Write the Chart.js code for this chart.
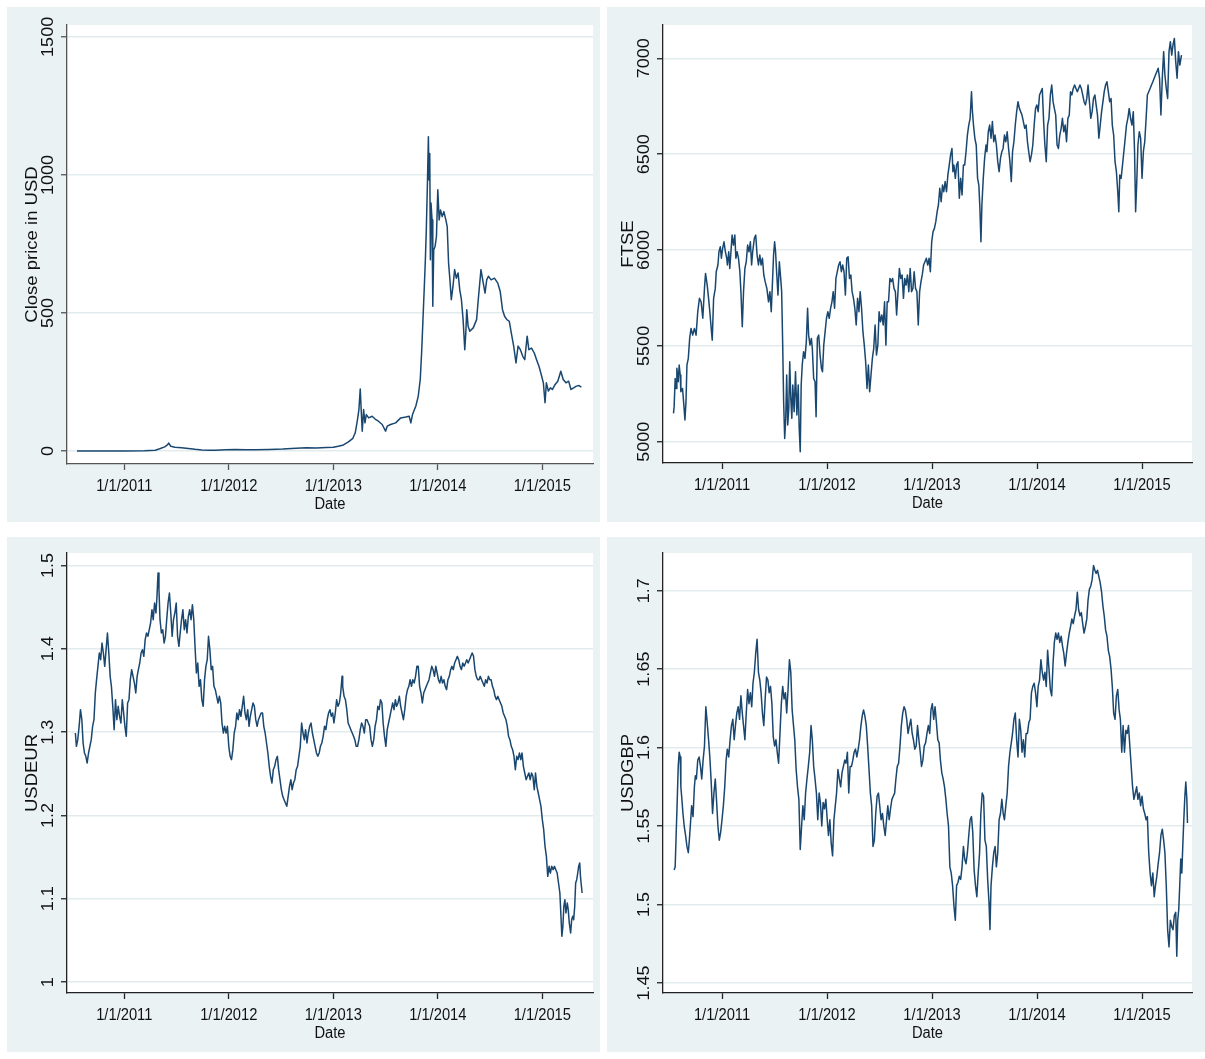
<!DOCTYPE html>
<html>
<head>
<meta charset="utf-8">
<title>Bitcoin, FTSE, USDEUR, USDGBP</title>
<script src="https://cdn.jsdelivr.net/npm/chart.js@4.4.1/dist/chart.umd.min.js"></script>
<style>
  html, body { margin: 0; padding: 0; background: #fff; }
  body { width: 1205px; height: 1059px; position: relative; overflow: hidden; }
  .panel { position: absolute; background: #eaf2f3; }
  .panel canvas { display: block; }
</style>
</head>
<body>
<div class="panel" style="left:7px;top:7px;width:593px;height:515px"><canvas id="btcChart" width="593" height="515"></canvas></div>
<div class="panel" style="left:607px;top:7px;width:598px;height:515px"><canvas id="ftseChart" width="598" height="515"></canvas></div>
<div class="panel" style="left:7px;top:537px;width:593px;height:515px"><canvas id="eurChart" width="593" height="515"></canvas></div>
<div class="panel" style="left:607px;top:537px;width:598px;height:515px"><canvas id="gbpChart" width="598" height="515"></canvas></div>

<script>
// x values are dates as decimal years
const yearTicks = [2011, 2012, 2013, 2014, 2015];
const btcTicks = [0, 500, 1000, 1500];
const ftseTicks = [5000, 5500, 6000, 6500, 7000];
const eurTicks = [1, 1.1, 1.2, 1.3, 1.4, 1.5];
const gbpTicks = [1.45, 1.5, 1.55, 1.6, 1.65, 1.7];

// Bitcoin close price in USD
const btcYears = [
  2010.548, 2010.774, 2011.000, 2011.194, 2011.297, 2011.339, 2011.387, 2011.413, 2011.426, 2011.445,
  2011.484, 2011.548, 2011.613, 2011.677, 2011.742, 2011.806, 2011.871, 2011.968, 2012.065, 2012.161,
  2012.258, 2012.387, 2012.516, 2012.645, 2012.742, 2012.839, 2012.935, 2013.000, 2013.048, 2013.097,
  2013.145, 2013.187, 2013.210, 2013.232, 2013.245, 2013.258, 2013.268, 2013.277, 2013.290, 2013.303,
  2013.316, 2013.339, 2013.371, 2013.403, 2013.432, 2013.468, 2013.500, 2013.516, 2013.548, 2013.597,
  2013.645, 2013.694, 2013.726, 2013.742, 2013.758, 2013.790, 2013.813, 2013.832, 2013.845, 2013.858,
  2013.871, 2013.881, 2013.890, 2013.900, 2013.910, 2013.916, 2013.923, 2013.929, 2013.935, 2013.945,
  2013.952, 2013.961, 2013.974, 2013.987, 2014.000, 2014.013, 2014.026, 2014.042, 2014.058, 2014.077,
  2014.090, 2014.103, 2014.116, 2014.129, 2014.145, 2014.161, 2014.177, 2014.194, 2014.210, 2014.226,
  2014.242, 2014.258, 2014.268, 2014.277, 2014.290, 2014.306, 2014.339, 2014.371, 2014.387, 2014.413,
  2014.435, 2014.452, 2014.468, 2014.484, 2014.510, 2014.542, 2014.574, 2014.597, 2014.619, 2014.639,
  2014.661, 2014.684, 2014.703, 2014.726, 2014.748, 2014.768, 2014.790, 2014.813, 2014.832, 2014.855,
  2014.871, 2014.897, 2014.923, 2014.945, 2014.968, 2014.994, 2015.010, 2015.026, 2015.039, 2015.058,
  2015.077, 2015.097, 2015.123, 2015.148, 2015.177, 2015.200, 2015.226, 2015.252, 2015.274, 2015.300,
  2015.326, 2015.352, 2015.374
];
const btcClose = [
  0.06, 0.1, 0.3, 0.9, 3, 8, 15, 22, 29, 17,
  14, 12, 9, 6, 4, 3, 3, 4.5, 5.5, 5,
  5, 5.5, 7, 10, 12, 11, 13, 13.5, 17, 22,
  33, 46, 66, 115, 150, 225, 140, 72, 150, 102,
  132, 120, 126, 115, 108, 96, 72, 90, 96, 102,
  120, 123, 126, 102, 132, 163, 199, 259, 355, 476,
  596, 693, 801, 958, 1138, 982, 1078, 693, 898, 837,
  524, 729, 741, 777, 946, 837, 873, 849, 867, 837,
  813, 681, 620, 548, 596, 657, 626, 645, 584, 548,
  476, 367, 428, 512, 452, 434, 446, 476, 548, 657,
  608, 572, 620, 633, 620, 626, 608, 578, 512, 488,
  476, 470, 428, 380, 319, 380, 367, 343, 331, 416,
  367, 373, 355, 331, 307, 271, 247, 175, 247, 217,
  229, 223, 241, 253, 289, 259, 247, 253, 223, 229,
  235, 237, 231
];

// FTSE index
const ftseYears = [
  2010.538, 2010.544, 2010.554, 2010.563, 2010.570, 2010.583, 2010.592, 2010.602, 2010.608, 2010.624,
  2010.634, 2010.647, 2010.657, 2010.666, 2010.679, 2010.692, 2010.705, 2010.721, 2010.737, 2010.753,
  2010.769, 2010.785, 2010.801, 2010.817, 2010.833, 2010.843, 2010.859, 2010.872, 2010.884, 2010.897,
  2010.907, 2010.920, 2010.936, 2010.945, 2010.961, 2010.971, 2010.984, 2010.994, 2011.006, 2011.019,
  2011.032, 2011.045, 2011.051, 2011.064, 2011.074, 2011.083, 2011.096, 2011.109, 2011.122, 2011.132,
  2011.144, 2011.157, 2011.170, 2011.180, 2011.193, 2011.205, 2011.218, 2011.231, 2011.244, 2011.257,
  2011.270, 2011.282, 2011.292, 2011.308, 2011.321, 2011.334, 2011.347, 2011.360, 2011.372, 2011.385,
  2011.398, 2011.411, 2011.427, 2011.443, 2011.456, 2011.469, 2011.482, 2011.491, 2011.501, 2011.510,
  2011.520, 2011.533, 2011.546, 2011.559, 2011.568, 2011.578, 2011.587, 2011.597, 2011.607, 2011.616,
  2011.626, 2011.636, 2011.645, 2011.655, 2011.665, 2011.674, 2011.687, 2011.700, 2011.713, 2011.726,
  2011.735, 2011.745, 2011.754, 2011.764, 2011.777, 2011.790, 2011.803, 2011.815, 2011.825, 2011.838,
  2011.851, 2011.860, 2011.873, 2011.886, 2011.896, 2011.908, 2011.921, 2011.934, 2011.947, 2011.957,
  2011.969, 2011.982, 2011.995, 2012.008, 2012.021, 2012.034, 2012.047, 2012.059, 2012.072, 2012.085,
  2012.098, 2012.111, 2012.124, 2012.137, 2012.149, 2012.162, 2012.175, 2012.188, 2012.201, 2012.214,
  2012.227, 2012.239, 2012.252, 2012.265, 2012.278, 2012.291, 2012.304, 2012.316, 2012.329, 2012.342,
  2012.355, 2012.368, 2012.381, 2012.394, 2012.406, 2012.419, 2012.432, 2012.445, 2012.458, 2012.471,
  2012.484, 2012.496, 2012.509, 2012.522, 2012.535, 2012.548, 2012.561, 2012.573, 2012.586, 2012.599,
  2012.612, 2012.625, 2012.638, 2012.651, 2012.663, 2012.676, 2012.689, 2012.702, 2012.715, 2012.728,
  2012.740, 2012.753, 2012.766, 2012.779, 2012.792, 2012.805, 2012.818, 2012.830, 2012.843, 2012.856,
  2012.869, 2012.882, 2012.895, 2012.907, 2012.920, 2012.933, 2012.946, 2012.959, 2012.972, 2012.984,
  2012.997, 2013.010, 2013.023, 2013.036, 2013.049, 2013.061, 2013.074, 2013.087, 2013.100, 2013.112,
  2013.125, 2013.138, 2013.151, 2013.164, 2013.177, 2013.190, 2013.199, 2013.209, 2013.222, 2013.234,
  2013.247, 2013.260, 2013.273, 2013.286, 2013.299, 2013.311, 2013.324, 2013.337, 2013.350, 2013.363,
  2013.376, 2013.385, 2013.395, 2013.408, 2013.421, 2013.434, 2013.446, 2013.456, 2013.466, 2013.475,
  2013.488, 2013.501, 2013.514, 2013.523, 2013.536, 2013.549, 2013.562, 2013.575, 2013.588, 2013.600,
  2013.613, 2013.626, 2013.639, 2013.652, 2013.665, 2013.677, 2013.690, 2013.703, 2013.716, 2013.729,
  2013.742, 2013.755, 2013.767, 2013.780, 2013.793, 2013.806, 2013.819, 2013.832, 2013.844, 2013.857,
  2013.870, 2013.883, 2013.896, 2013.909, 2013.921, 2013.934, 2013.947, 2013.960, 2013.973, 2013.986,
  2013.998, 2014.011, 2014.024, 2014.037, 2014.050, 2014.063, 2014.075, 2014.088, 2014.101, 2014.114,
  2014.127, 2014.140, 2014.153, 2014.165, 2014.178, 2014.191, 2014.204, 2014.217, 2014.230, 2014.242,
  2014.255, 2014.268, 2014.281, 2014.294, 2014.307, 2014.319, 2014.332, 2014.345, 2014.358, 2014.371,
  2014.384, 2014.396, 2014.409, 2014.422, 2014.435, 2014.448, 2014.461, 2014.474, 2014.486, 2014.499,
  2014.512, 2014.525, 2014.538, 2014.551, 2014.563, 2014.576, 2014.589, 2014.602, 2014.615, 2014.628,
  2014.640, 2014.653, 2014.666, 2014.679, 2014.692, 2014.705, 2014.717, 2014.730, 2014.743, 2014.756,
  2014.769, 2014.779, 2014.788, 2014.801, 2014.814, 2014.827, 2014.840, 2014.852, 2014.865, 2014.878,
  2014.891, 2014.904, 2014.917, 2014.929, 2014.939, 2014.949, 2014.961, 2014.974, 2014.987, 2015.000,
  2015.013, 2015.026, 2015.039, 2015.051, 2015.064, 2015.077, 2015.090, 2015.103, 2015.116, 2015.128,
  2015.141, 2015.154, 2015.167, 2015.180, 2015.193, 2015.206, 2015.218, 2015.231, 2015.244, 2015.257,
  2015.270, 2015.283, 2015.295, 2015.308, 2015.321, 2015.334, 2015.347, 2015.360, 2015.376
];
const ftseClose = [
  5148, 5183, 5330, 5278, 5383, 5313, 5400, 5348, 5261, 5278,
  5209, 5113, 5209, 5400, 5435, 5539, 5591, 5556, 5591, 5556,
  5678, 5748, 5730, 5644, 5800, 5878, 5817, 5748, 5678, 5591,
  5530, 5748, 5800, 5887, 5922, 5991, 6017, 5957, 6009, 6043,
  5991, 5957, 5922, 5991, 5904, 5974, 6078, 6026, 6078, 5957,
  5991, 5957, 5887, 5783, 5600, 5783, 5904, 5939, 6026, 5991,
  6043, 5922, 5991, 6061, 6078, 5974, 5922, 5974, 5922, 5957,
  5870, 5835, 5800, 5730, 5783, 5678, 5852, 5974, 6043, 5991,
  5887, 5765, 5939, 5852, 5783, 5504, 5209, 5017, 5122, 5348,
  5087, 5174, 5417, 5226, 5122, 5296, 5157, 5365, 5139, 5296,
  5070, 4948, 5296, 5400, 5470, 5435, 5522, 5696, 5556, 5504,
  5539, 5487, 5330, 5313, 5130, 5539, 5556, 5452, 5383, 5365,
  5504, 5574, 5644, 5678, 5644, 5696, 5730, 5783, 5696, 5852,
  5887, 5922, 5939, 5887, 5922, 5887, 5765, 5957, 5965, 5852,
  5870, 5783, 5748, 5696, 5609, 5748, 5678, 5783, 5696, 5574,
  5504, 5417, 5278, 5400, 5261, 5348, 5435, 5487, 5609, 5452,
  5504, 5678, 5626, 5661, 5609, 5730, 5504, 5730, 5730, 5852,
  5835, 5852, 5800, 5783, 5661, 5783, 5904, 5852, 5870, 5748,
  5852, 5817, 5870, 5783, 5904, 5783, 5800, 5887, 5800, 5783,
  5609, 5783, 5835, 5870, 5922, 5939, 5957, 5922, 5957, 5887,
  6043, 6096, 6113, 6148, 6200, 6235, 6322, 6252, 6339, 6304,
  6357, 6304, 6391, 6443, 6496, 6530, 6409, 6443, 6374, 6443,
  6461, 6270, 6374, 6287, 6443, 6443, 6513, 6600, 6652, 6687,
  6826, 6722, 6652, 6583, 6548, 6374, 6339, 6217, 6043, 6235,
  6374, 6478, 6548, 6513, 6617, 6652, 6583, 6670, 6565, 6600,
  6548, 6461, 6409, 6478, 6513, 6530, 6600, 6565, 6617, 6530,
  6461, 6357, 6513, 6565, 6652, 6722, 6774, 6739, 6722, 6704,
  6670, 6635, 6652, 6565, 6513, 6461, 6496, 6548, 6652, 6739,
  6757, 6722, 6809, 6826, 6843, 6670, 6548, 6461, 6652, 6687,
  6809, 6861, 6774, 6739, 6704, 6548, 6530, 6600, 6635, 6687,
  6617, 6652, 6565, 6687, 6704, 6826, 6809, 6843, 6861, 6843,
  6826, 6843, 6861, 6843, 6809, 6774, 6757, 6791, 6861, 6774,
  6687, 6722, 6791, 6809, 6757, 6704, 6583, 6652, 6722, 6774,
  6826, 6861, 6878, 6826, 6774, 6791, 6652, 6600, 6461, 6409,
  6304, 6200, 6391, 6374, 6443, 6513, 6583, 6652, 6687, 6739,
  6687, 6652, 6722, 6513, 6200, 6339, 6548, 6617, 6583, 6374,
  6513, 6565, 6687, 6809, 6826, 6843, 6861, 6878, 6896, 6913,
  6930, 6948, 6896, 6704, 6896, 7035, 6913, 6843, 6791, 7035,
  7087, 7017, 7070, 7104, 6983, 6896, 7035, 6965, 7017
];

// USD per EUR
const eurYears = [
  2010.532, 2010.542, 2010.555, 2010.568, 2010.581, 2010.594, 2010.606, 2010.619, 2010.632, 2010.645,
  2010.658, 2010.671, 2010.684, 2010.697, 2010.710, 2010.723, 2010.735, 2010.748, 2010.761, 2010.774,
  2010.787, 2010.800, 2010.813, 2010.826, 2010.839, 2010.852, 2010.865, 2010.877, 2010.890, 2010.903,
  2010.916, 2010.929, 2010.942, 2010.955, 2010.968, 2010.981, 2010.994, 2011.006, 2011.019, 2011.032,
  2011.045, 2011.058, 2011.071, 2011.084, 2011.097, 2011.110, 2011.123, 2011.135, 2011.148, 2011.161,
  2011.174, 2011.187, 2011.200, 2011.213, 2011.226, 2011.239, 2011.252, 2011.265, 2011.277, 2011.290,
  2011.303, 2011.313, 2011.323, 2011.332, 2011.342, 2011.355, 2011.368, 2011.381, 2011.394, 2011.406,
  2011.419, 2011.432, 2011.445, 2011.458, 2011.471, 2011.484, 2011.497, 2011.510, 2011.523, 2011.535,
  2011.548, 2011.561, 2011.574, 2011.587, 2011.600, 2011.613, 2011.626, 2011.639, 2011.652, 2011.665,
  2011.677, 2011.690, 2011.703, 2011.716, 2011.729, 2011.742, 2011.755, 2011.768, 2011.781, 2011.794,
  2011.806, 2011.819, 2011.832, 2011.845, 2011.858, 2011.871, 2011.884, 2011.897, 2011.910, 2011.923,
  2011.935, 2011.948, 2011.961, 2011.974, 2011.987, 2012.000, 2012.013, 2012.026, 2012.039, 2012.052,
  2012.065, 2012.077, 2012.090, 2012.103, 2012.116, 2012.129, 2012.142, 2012.155, 2012.168, 2012.181,
  2012.194, 2012.206, 2012.219, 2012.232, 2012.245, 2012.258, 2012.271, 2012.284, 2012.297, 2012.310,
  2012.323, 2012.335, 2012.348, 2012.361, 2012.374, 2012.387, 2012.400, 2012.413, 2012.426, 2012.439,
  2012.452, 2012.465, 2012.477, 2012.490, 2012.503, 2012.516, 2012.529, 2012.542, 2012.555, 2012.568,
  2012.581, 2012.594, 2012.606, 2012.619, 2012.632, 2012.645, 2012.658, 2012.671, 2012.684, 2012.697,
  2012.710, 2012.723, 2012.735, 2012.748, 2012.761, 2012.774, 2012.787, 2012.800, 2012.813, 2012.826,
  2012.839, 2012.852, 2012.865, 2012.877, 2012.890, 2012.903, 2012.916, 2012.929, 2012.942, 2012.955,
  2012.968, 2012.981, 2012.994, 2013.006, 2013.019, 2013.032, 2013.045, 2013.058, 2013.071, 2013.084,
  2013.090, 2013.103, 2013.116, 2013.129, 2013.142, 2013.155, 2013.168, 2013.181, 2013.194, 2013.206,
  2013.219, 2013.232, 2013.245, 2013.258, 2013.271, 2013.284, 2013.297, 2013.310, 2013.323, 2013.335,
  2013.348, 2013.361, 2013.374, 2013.387, 2013.400, 2013.413, 2013.426, 2013.439, 2013.452, 2013.465,
  2013.477, 2013.490, 2013.503, 2013.516, 2013.529, 2013.542, 2013.555, 2013.568, 2013.581, 2013.594,
  2013.606, 2013.619, 2013.632, 2013.645, 2013.658, 2013.671, 2013.684, 2013.697, 2013.710, 2013.723,
  2013.735, 2013.748, 2013.761, 2013.774, 2013.787, 2013.800, 2013.813, 2013.826, 2013.839, 2013.852,
  2013.865, 2013.877, 2013.890, 2013.903, 2013.916, 2013.929, 2013.942, 2013.955, 2013.968, 2013.981,
  2013.994, 2014.006, 2014.019, 2014.032, 2014.045, 2014.058, 2014.071, 2014.084, 2014.097, 2014.110,
  2014.123, 2014.135, 2014.148, 2014.161, 2014.174, 2014.187, 2014.200, 2014.213, 2014.226, 2014.239,
  2014.252, 2014.265, 2014.277, 2014.290, 2014.303, 2014.316, 2014.329, 2014.342, 2014.355, 2014.368,
  2014.381, 2014.394, 2014.406, 2014.419, 2014.432, 2014.445, 2014.458, 2014.471, 2014.484, 2014.497,
  2014.510, 2014.523, 2014.535, 2014.548, 2014.561, 2014.574, 2014.587, 2014.600, 2014.613, 2014.626,
  2014.639, 2014.652, 2014.665, 2014.677, 2014.690, 2014.703, 2014.716, 2014.729, 2014.742, 2014.755,
  2014.768, 2014.781, 2014.794, 2014.806, 2014.819, 2014.832, 2014.845, 2014.858, 2014.871, 2014.884,
  2014.897, 2014.910, 2014.923, 2014.935, 2014.948, 2014.961, 2014.974, 2014.987, 2015.000, 2015.013,
  2015.026, 2015.039, 2015.052, 2015.065, 2015.077, 2015.090, 2015.103, 2015.116, 2015.129, 2015.142,
  2015.155, 2015.168, 2015.177, 2015.187, 2015.197, 2015.206, 2015.216, 2015.226, 2015.239, 2015.248,
  2015.258, 2015.271, 2015.281, 2015.290, 2015.300, 2015.310, 2015.319, 2015.329, 2015.339, 2015.348,
  2015.358, 2015.365, 2015.371, 2015.381
];
const usdEur = [
  1.299, 1.283, 1.291, 1.307, 1.327, 1.315, 1.287, 1.275, 1.271, 1.263,
  1.275, 1.283, 1.291, 1.307, 1.315, 1.347, 1.363, 1.379, 1.395, 1.387,
  1.407, 1.395, 1.379, 1.399, 1.419, 1.395, 1.367, 1.355, 1.331, 1.303,
  1.339, 1.315, 1.331, 1.319, 1.311, 1.339, 1.323, 1.307, 1.295, 1.335,
  1.339, 1.363, 1.375, 1.367, 1.359, 1.347, 1.367, 1.375, 1.383, 1.395,
  1.399, 1.391, 1.411, 1.419, 1.415, 1.423, 1.431, 1.447, 1.435, 1.455,
  1.443, 1.463, 1.491, 1.471, 1.435, 1.419, 1.423, 1.407, 1.415, 1.435,
  1.455, 1.467, 1.443, 1.415, 1.435, 1.443, 1.455, 1.415, 1.403, 1.419,
  1.435, 1.447, 1.423, 1.435, 1.419, 1.439, 1.447, 1.435, 1.453, 1.435,
  1.403, 1.371, 1.383, 1.355, 1.363, 1.339, 1.331, 1.363, 1.379, 1.387,
  1.415, 1.399, 1.375, 1.379, 1.355, 1.351, 1.343, 1.335, 1.343, 1.335,
  1.311, 1.299, 1.307, 1.299, 1.307, 1.283, 1.271, 1.267, 1.279, 1.299,
  1.307, 1.323, 1.315, 1.327, 1.319, 1.331, 1.343, 1.323, 1.315, 1.327,
  1.307, 1.319, 1.327, 1.335, 1.331, 1.315, 1.307, 1.315, 1.319, 1.323,
  1.323, 1.307, 1.299, 1.287, 1.275, 1.259, 1.247, 1.239, 1.255, 1.259,
  1.267, 1.271, 1.255, 1.243, 1.231, 1.223, 1.219, 1.215, 1.211, 1.223,
  1.235, 1.243, 1.231, 1.239, 1.243, 1.255, 1.259, 1.271, 1.283, 1.311,
  1.299, 1.291, 1.303, 1.287, 1.299, 1.307, 1.311, 1.299, 1.291, 1.283,
  1.275, 1.271, 1.275, 1.283, 1.287, 1.295, 1.307, 1.303, 1.315, 1.323,
  1.327, 1.319, 1.323, 1.311, 1.323, 1.339, 1.331, 1.335, 1.347, 1.367,
  1.355, 1.343, 1.339, 1.327, 1.311, 1.307, 1.303, 1.299, 1.295, 1.291,
  1.283, 1.283, 1.291, 1.303, 1.311, 1.307, 1.299, 1.315, 1.315, 1.311,
  1.307, 1.291, 1.283, 1.291, 1.307, 1.315, 1.331, 1.327, 1.339, 1.335,
  1.311, 1.295, 1.283, 1.303, 1.311, 1.319, 1.327, 1.335, 1.327, 1.339,
  1.331, 1.335, 1.343, 1.331, 1.323, 1.315, 1.327, 1.343, 1.351, 1.355,
  1.363, 1.355, 1.363, 1.359, 1.367, 1.379, 1.379, 1.355, 1.347, 1.335,
  1.347, 1.351, 1.355, 1.359, 1.363, 1.371, 1.379, 1.375, 1.367, 1.379,
  1.371, 1.363, 1.359, 1.367, 1.359, 1.363, 1.355, 1.351, 1.363, 1.367,
  1.375, 1.379, 1.375, 1.383, 1.387, 1.391, 1.387, 1.379, 1.375, 1.383,
  1.379, 1.383, 1.387, 1.383, 1.387, 1.391, 1.395, 1.391, 1.375, 1.367,
  1.363, 1.363, 1.367, 1.363, 1.359, 1.355, 1.363, 1.359, 1.367, 1.363,
  1.363, 1.355, 1.351, 1.343, 1.339, 1.343, 1.339, 1.335, 1.331, 1.323,
  1.319, 1.315, 1.307, 1.295, 1.291, 1.283, 1.279, 1.271, 1.255, 1.271,
  1.267, 1.275, 1.267, 1.275, 1.259, 1.251, 1.243, 1.247, 1.251, 1.243,
  1.251, 1.247, 1.231, 1.251, 1.235, 1.227, 1.219, 1.211, 1.195, 1.183,
  1.163, 1.151, 1.127, 1.139, 1.131, 1.139, 1.135, 1.139, 1.135, 1.131,
  1.119, 1.107, 1.083, 1.055, 1.067, 1.091, 1.099, 1.083, 1.095, 1.087,
  1.071, 1.059, 1.075, 1.079, 1.075, 1.091, 1.119, 1.123, 1.131, 1.139,
  1.143, 1.127, 1.119, 1.107
];

// USD per GBP
const gbpYears = [
  2010.544, 2010.554, 2010.563, 2010.573, 2010.583, 2010.592, 2010.602, 2010.608, 2010.618, 2010.628,
  2010.640, 2010.653, 2010.666, 2010.679, 2010.689, 2010.698, 2010.711, 2010.724, 2010.737, 2010.746,
  2010.756, 2010.769, 2010.782, 2010.795, 2010.807, 2010.820, 2010.833, 2010.846, 2010.859, 2010.872,
  2010.884, 2010.897, 2010.910, 2010.923, 2010.936, 2010.949, 2010.961, 2010.974, 2010.987, 2011.000,
  2011.013, 2011.026, 2011.039, 2011.051, 2011.064, 2011.077, 2011.090, 2011.103, 2011.116, 2011.128,
  2011.141, 2011.154, 2011.167, 2011.180, 2011.193, 2011.205, 2011.218, 2011.231, 2011.244, 2011.257,
  2011.270, 2011.283, 2011.295, 2011.308, 2011.321, 2011.334, 2011.347, 2011.360, 2011.372, 2011.385,
  2011.398, 2011.411, 2011.424, 2011.437, 2011.449, 2011.462, 2011.475, 2011.488, 2011.501, 2011.514,
  2011.526, 2011.539, 2011.552, 2011.565, 2011.578, 2011.591, 2011.604, 2011.616, 2011.629, 2011.642,
  2011.655, 2011.668, 2011.681, 2011.693, 2011.706, 2011.719, 2011.732, 2011.745, 2011.758, 2011.770,
  2011.783, 2011.796, 2011.809, 2011.822, 2011.835, 2011.848, 2011.860, 2011.873, 2011.886, 2011.899,
  2011.912, 2011.925, 2011.937, 2011.950, 2011.963, 2011.976, 2011.989, 2012.002, 2012.014, 2012.027,
  2012.040, 2012.053, 2012.066, 2012.079, 2012.091, 2012.104, 2012.117, 2012.130, 2012.143, 2012.156,
  2012.169, 2012.181, 2012.194, 2012.207, 2012.220, 2012.233, 2012.246, 2012.258, 2012.271, 2012.284,
  2012.297, 2012.310, 2012.323, 2012.335, 2012.348, 2012.361, 2012.374, 2012.387, 2012.400, 2012.413,
  2012.425, 2012.438, 2012.451, 2012.464, 2012.477, 2012.490, 2012.502, 2012.515, 2012.528, 2012.541,
  2012.554, 2012.567, 2012.579, 2012.592, 2012.605, 2012.618, 2012.631, 2012.644, 2012.656, 2012.669,
  2012.682, 2012.695, 2012.708, 2012.721, 2012.734, 2012.746, 2012.759, 2012.772, 2012.785, 2012.798,
  2012.811, 2012.823, 2012.836, 2012.849, 2012.862, 2012.875, 2012.888, 2012.900, 2012.913, 2012.926,
  2012.939, 2012.952, 2012.965, 2012.978, 2012.990, 2013.003, 2013.016, 2013.029, 2013.042, 2013.055,
  2013.068, 2013.080, 2013.093, 2013.106, 2013.119, 2013.132, 2013.144, 2013.157, 2013.170, 2013.183,
  2013.196, 2013.209, 2013.222, 2013.234, 2013.247, 2013.260, 2013.273, 2013.286, 2013.299, 2013.311,
  2013.324, 2013.337, 2013.350, 2013.363, 2013.376, 2013.388, 2013.401, 2013.414, 2013.427, 2013.440,
  2013.453, 2013.465, 2013.478, 2013.491, 2013.504, 2013.517, 2013.530, 2013.543, 2013.552, 2013.562,
  2013.575, 2013.588, 2013.601, 2013.613, 2013.626, 2013.639, 2013.652, 2013.665, 2013.678, 2013.690,
  2013.703, 2013.716, 2013.729, 2013.742, 2013.755, 2013.767, 2013.780, 2013.793, 2013.806, 2013.819,
  2013.832, 2013.845, 2013.857, 2013.870, 2013.883, 2013.896, 2013.909, 2013.922, 2013.934, 2013.947,
  2013.960, 2013.973, 2013.986, 2013.999, 2014.011, 2014.024, 2014.037, 2014.050, 2014.063, 2014.075,
  2014.088, 2014.101, 2014.114, 2014.127, 2014.140, 2014.153, 2014.165, 2014.178, 2014.191, 2014.204,
  2014.217, 2014.230, 2014.242, 2014.255, 2014.268, 2014.281, 2014.294, 2014.307, 2014.319, 2014.332,
  2014.345, 2014.358, 2014.371, 2014.384, 2014.396, 2014.409, 2014.422, 2014.435, 2014.448, 2014.461,
  2014.474, 2014.486, 2014.499, 2014.512, 2014.525, 2014.538, 2014.551, 2014.563, 2014.576, 2014.589,
  2014.602, 2014.615, 2014.628, 2014.640, 2014.653, 2014.666, 2014.679, 2014.692, 2014.705, 2014.717,
  2014.730, 2014.743, 2014.756, 2014.769, 2014.782, 2014.794, 2014.807, 2014.820, 2014.833, 2014.846,
  2014.859, 2014.871, 2014.884, 2014.897, 2014.910, 2014.923, 2014.936, 2014.949, 2014.961, 2014.974,
  2014.987, 2015.000, 2015.013, 2015.026, 2015.039, 2015.051, 2015.064, 2015.077, 2015.090, 2015.103,
  2015.116, 2015.128, 2015.141, 2015.154, 2015.167, 2015.180, 2015.193, 2015.206, 2015.218, 2015.231,
  2015.244, 2015.257, 2015.270, 2015.283, 2015.295, 2015.308, 2015.321, 2015.331, 2015.340, 2015.350,
  2015.359, 2015.369, 2015.379, 2015.388, 2015.398, 2015.408, 2015.417, 2015.427, 2015.433
];
const usdGbp = [
  1.522, 1.524, 1.544, 1.565, 1.588, 1.597, 1.594, 1.575, 1.567, 1.558,
  1.550, 1.544, 1.537, 1.533, 1.541, 1.550, 1.563, 1.556, 1.575, 1.582,
  1.580, 1.592, 1.594, 1.588, 1.580, 1.592, 1.601, 1.626, 1.616, 1.605,
  1.594, 1.578, 1.558, 1.571, 1.580, 1.565, 1.550, 1.541, 1.546, 1.554,
  1.563, 1.575, 1.592, 1.599, 1.594, 1.605, 1.614, 1.618, 1.605, 1.614,
  1.622, 1.626, 1.618, 1.633, 1.622, 1.614, 1.605, 1.622, 1.637, 1.628,
  1.635, 1.626, 1.641, 1.648, 1.660, 1.669, 1.648, 1.643, 1.635, 1.622,
  1.614, 1.631, 1.645, 1.643, 1.635, 1.639, 1.628, 1.607, 1.601, 1.605,
  1.597, 1.590, 1.609, 1.628, 1.639, 1.631, 1.635, 1.622, 1.637, 1.656,
  1.648, 1.624, 1.614, 1.605, 1.586, 1.575, 1.567, 1.535, 1.550, 1.563,
  1.554, 1.571, 1.580, 1.588, 1.597, 1.614, 1.605, 1.588, 1.580, 1.571,
  1.554, 1.571, 1.565, 1.550, 1.565, 1.561, 1.567, 1.554, 1.544, 1.554,
  1.539, 1.531, 1.554, 1.563, 1.571, 1.586, 1.580, 1.575, 1.584, 1.588,
  1.592, 1.590, 1.597, 1.571, 1.588, 1.588, 1.592, 1.597, 1.599, 1.594,
  1.599, 1.605, 1.614, 1.620, 1.624, 1.620, 1.614, 1.601, 1.586, 1.571,
  1.563, 1.537, 1.541, 1.558, 1.569, 1.571, 1.563, 1.554, 1.558, 1.550,
  1.544, 1.554, 1.563, 1.554, 1.561, 1.567, 1.569, 1.571, 1.580, 1.588,
  1.590, 1.601, 1.614, 1.622, 1.626, 1.624, 1.618, 1.609, 1.614, 1.618,
  1.609, 1.605, 1.599, 1.601, 1.614, 1.605, 1.597, 1.588, 1.592, 1.601,
  1.603, 1.609, 1.614, 1.609, 1.624, 1.628, 1.618, 1.626, 1.616, 1.605,
  1.603, 1.592, 1.584, 1.580, 1.575, 1.567, 1.558, 1.550, 1.524, 1.520,
  1.512, 1.499, 1.490, 1.512, 1.514, 1.518, 1.516, 1.524, 1.537, 1.529,
  1.526, 1.533, 1.544, 1.554, 1.556, 1.546, 1.522, 1.512, 1.505, 1.520,
  1.533, 1.558, 1.571, 1.569, 1.541, 1.537, 1.516, 1.501, 1.484, 1.512,
  1.524, 1.533, 1.537, 1.524, 1.533, 1.554, 1.558, 1.567, 1.558, 1.554,
  1.563, 1.571, 1.588, 1.597, 1.603, 1.609, 1.618, 1.622, 1.605, 1.594,
  1.618, 1.611, 1.597, 1.605, 1.594, 1.609, 1.609, 1.616, 1.618, 1.635,
  1.639, 1.641, 1.635, 1.626, 1.639, 1.643, 1.656, 1.648, 1.643, 1.648,
  1.639, 1.662, 1.650, 1.637, 1.633, 1.654, 1.667, 1.673, 1.669, 1.673,
  1.667, 1.671, 1.665, 1.660, 1.652, 1.660, 1.667, 1.673, 1.677, 1.682,
  1.679, 1.684, 1.688, 1.699, 1.688, 1.684, 1.686, 1.679, 1.673, 1.677,
  1.682, 1.694, 1.701, 1.703, 1.707, 1.716, 1.713, 1.711, 1.713, 1.709,
  1.705, 1.699, 1.690, 1.684, 1.675, 1.671, 1.662, 1.658, 1.650, 1.639,
  1.622, 1.618, 1.633, 1.637, 1.624, 1.618, 1.597, 1.614, 1.597, 1.611,
  1.609, 1.614, 1.601, 1.588, 1.575, 1.567, 1.571, 1.575, 1.567, 1.571,
  1.563, 1.569, 1.561, 1.558, 1.554, 1.556, 1.533, 1.520, 1.512, 1.520,
  1.505, 1.512, 1.518, 1.526, 1.533, 1.544, 1.548, 1.541, 1.533, 1.512,
  1.484, 1.473, 1.490, 1.486, 1.484, 1.493, 1.495, 1.467, 1.490, 1.497,
  1.512, 1.529, 1.520, 1.537, 1.554, 1.569, 1.578, 1.567, 1.552
];

const lineColor = '#1a476f';
const gridColor = '#e2ebed';
const textColor = '#111';
const fontFamily = '"Liberation Sans", Arial, sans-serif';

// text in the picture is squeezed sideways, so draw it the same way
function drawLabel(ctx, text, x, y, vertical, size) {
  ctx.save();
  ctx.translate(x, y);
  if (vertical) {
    ctx.rotate(-Math.PI / 2);
    ctx.scale(1, 0.9);
  } else {
    ctx.scale(0.92, 1);
  }
  ctx.font = size + 'px ' + fontFamily;
  ctx.fillStyle = textColor;
  ctx.textAlign = 'center';
  ctx.textBaseline = 'middle';
  ctx.fillText(text, 0, 0);
  ctx.restore();
}

const stataText = {
  id: 'stataText',
  beforeDraw(chart) {
    const { ctx, chartArea: a } = chart;
    ctx.save();
    ctx.fillStyle = '#fff';
    ctx.fillRect(a.left, a.top, a.right - a.left, a.bottom - a.top);
    ctx.restore();
  },
  afterDraw(chart, args, opts) {
    const { ctx, chartArea: a } = chart;
    const x = chart.scales.x;
    const y = chart.scales.y;
    x.ticks.forEach(t => drawLabel(ctx, '1/1/' + t.value, x.getPixelForValue(t.value), a.bottom + 23, false, 16));
    drawLabel(ctx, 'Date', (a.left + a.right) / 2, a.bottom + 40.5, false, 16);
    y.ticks.forEach(t => drawLabel(ctx, String(t.value), a.left - 18, y.getPixelForValue(t.value), true, 18));
    drawLabel(ctx, opts.title, a.left - 35, (a.top + a.bottom) / 2, true, 18.5);
  }
};

function makeChart(id, c) {
  return new Chart(document.getElementById(id), {
    type: 'line',
    data: {
      datasets: [{
        data: c.years.map((t, i) => ({ x: t, y: c.values[i] })),
        borderColor: lineColor,
        borderWidth: 1.5,
        borderJoinStyle: 'round',
        pointRadius: 0,
        tension: 0,
        fill: false
      }]
    },
    options: {
      responsive: false,
      animation: false,
      events: [],
      layout: { padding: { top: c.padTop, right: c.padRight, bottom: 0, left: 0 } },
      plugins: {
        legend: { display: false },
        tooltip: { enabled: false },
        stataText: { title: c.title }
      },
      scales: {
        x: {
          type: 'linear',
          min: c.xMin,
          max: c.xMax,
          afterBuildTicks: s => { s.ticks = yearTicks.map(v => ({ value: v })); },
          afterFit: s => { s.height = c.xAxisHeight; },
          ticks: { display: false },
          grid: { drawOnChartArea: false, drawTicks: true, tickLength: 6, tickColor: c.axisColor, tickWidth: 1.3 },
          border: { display: true, color: c.axisColor, width: 1.3 }
        },
        y: {
          type: 'linear',
          min: c.yMin,
          max: c.yMax,
          afterBuildTicks: s => { s.ticks = c.yTicks.map(v => ({ value: v })); },
          afterFit: s => { s.width = c.yAxisWidth; },
          ticks: { display: false },
          grid: { color: gridColor, lineWidth: 1.5, drawTicks: true, tickLength: 6, tickColor: c.axisColor, tickWidth: 1.3 },
          border: { display: true, color: c.axisColor, width: 1.3 }
        }
      }
    },
    plugins: [stataText]
  });
}

makeChart('btcChart', {
  years: btcYears, values: btcClose, yTicks: btcTicks, title: 'Close price in USD',
  xMin: 2010.452, xMax: 2015.485, yMin: -47, yMax: 1543,
  yAxisWidth: 60, xAxisHeight: 58, padTop: 18, padRight: 7, axisColor: '#555'
});
makeChart('ftseChart', {
  years: ftseYears, values: ftseClose, yTicks: ftseTicks, title: 'FTSE',
  xMin: 2010.438, xMax: 2015.476, yMin: 4889, yMax: 7174,
  yAxisWidth: 56, xAxisHeight: 59, padTop: 18, padRight: 13, axisColor: '#222'
});
makeChart('eurChart', {
  years: eurYears, values: usdEur, yTicks: eurTicks, title: 'USDEUR',
  xMin: 2010.452, xMax: 2015.485, yMin: 0.987, yMax: 1.515,
  yAxisWidth: 60, xAxisHeight: 59, padTop: 16, padRight: 7, axisColor: '#222'
});
makeChart('gbpChart', {
  years: gbpYears, values: usdGbp, yTicks: gbpTicks, title: 'USDGBP',
  xMin: 2010.438, xMax: 2015.476, yMin: 1.4436, yMax: 1.724,
  yAxisWidth: 56, xAxisHeight: 59, padTop: 16, padRight: 13, axisColor: '#222'
});
</script>
</body>
</html>
